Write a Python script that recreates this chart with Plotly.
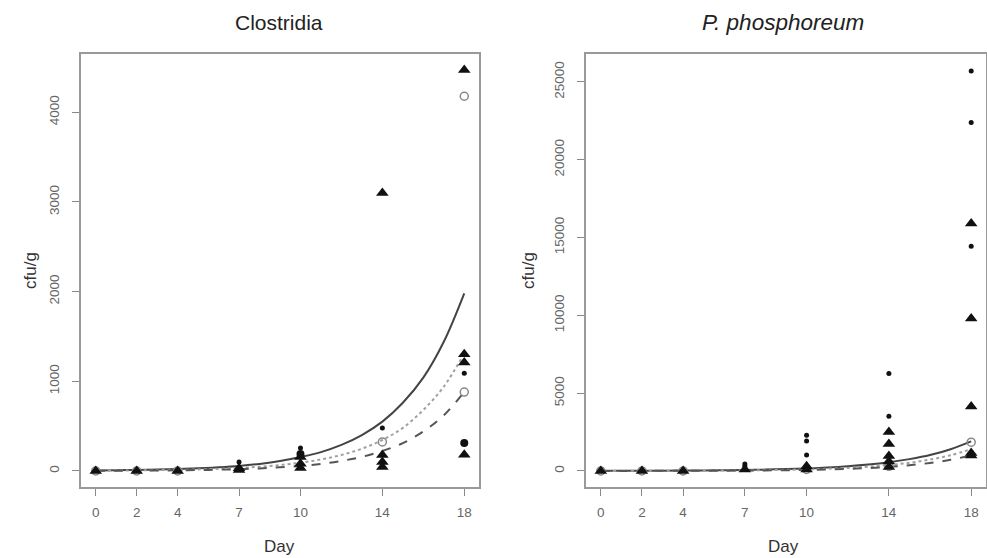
import plotly.graph_objects as go

W, H = 987, 558
days_curve = list(range(19))
x_ticks = [0, 2, 4, 7, 10, 14, 18]

# ---- Clostridia (left) ----
cl_solid = [6, 8, 11, 15, 21, 29, 40, 55, 78, 110, 155, 210, 290, 400, 550, 760, 1040, 1440, 1980]
cl_dotted = [3, 5, 6, 9, 12, 17, 24, 34, 47, 66, 92, 128, 178, 248, 345, 480, 680, 940, 1310]
cl_dashed = [2, 3, 4, 5, 7, 10, 14, 20, 28, 40, 56, 79, 112, 157, 222, 310, 440, 620, 880]
cl_tri_x = [0, 2, 4, 7, 7, 10, 10, 10, 14, 14, 14, 14, 18, 18, 18, 18]
cl_tri_y = [0, 0, 0, 30, 10, 156, 80, 33, 3100, 178, 100, 45, 4470, 1300, 1210, 180]
cl_dot_x = [7, 10, 14, 18]
cl_dot_y = [100, 256, 480, 1090]
cl_bigdot_x = [10, 18]
cl_bigdot_y = [190, 312]
cl_open_x = [0, 2, 4, 14, 18, 18]
cl_open_y = [0, 0, 0, 323, 4178, 880]

# ---- P. phosphoreum (right) ----
pp_solid = [7, 10, 13, 18, 25, 34, 46, 63, 86, 118, 160, 220, 300, 410, 560, 760, 1020, 1400, 1900]
pp_dotted = [4, 6, 8, 11, 15, 20, 28, 39, 54, 74, 103, 143, 198, 275, 380, 525, 730, 1010, 1400]
pp_dashed = [3, 4, 5, 7, 10, 13, 19, 26, 36, 50, 70, 98, 136, 190, 265, 370, 515, 720, 1000]
pp_tri_x = [0, 2, 4, 7, 10, 10, 14, 14, 14, 14, 14, 18, 18, 18, 18, 18]
pp_tri_y = [0, 0, 0, 100, 300, 100, 2500, 1730, 960, 600, 250, 15900, 9800, 4150, 1150, 1000]
pp_dot_x = [7, 7, 10, 10, 10, 14, 14, 18, 18, 18, 18]
pp_dot_y = [450, 300, 2300, 1920, 1020, 6260, 3520, 25700, 22400, 14450, 9850]
pp_open_x = [0, 2, 4, 10, 14, 18]
pp_open_y = [0, 0, 0, 100, 300, 1850]

fig = go.Figure()

def add_panel(xa, ya, solid, dotted, dashed, tri_x, tri_y, dot_x, dot_y, open_x, open_y, big_x=None, big_y=None):
    fig.add_trace(go.Scatter(x=days_curve, y=solid, mode="lines", line=dict(color="#444444", width=2, shape="spline"), xaxis=xa, yaxis=ya))
    fig.add_trace(go.Scatter(x=days_curve, y=dotted, mode="lines", line=dict(color="#a0a0a0", width=2, dash="dot", shape="spline"), xaxis=xa, yaxis=ya))
    fig.add_trace(go.Scatter(x=days_curve, y=dashed, mode="lines", line=dict(color="#555555", width=2, dash="dash", shape="spline"), xaxis=xa, yaxis=ya))
    fig.add_trace(go.Scatter(x=open_x, y=open_y, mode="markers", marker=dict(symbol="circle-open", size=8, color="#888888", line=dict(width=1.5, color="#888888")), xaxis=xa, yaxis=ya))
    fig.add_trace(go.Scatter(x=dot_x, y=dot_y, mode="markers", marker=dict(symbol="circle", size=5, color="#111111"), xaxis=xa, yaxis=ya))
    if big_x:
        fig.add_trace(go.Scatter(x=big_x, y=big_y, mode="markers", marker=dict(symbol="circle", size=8, color="#111111"), xaxis=xa, yaxis=ya))
    fig.add_trace(go.Scatter(x=tri_x, y=tri_y, mode="markers", marker=dict(symbol="triangle-up", size=11, color="#111111"), xaxis=xa, yaxis=ya))

add_panel("x", "y", cl_solid, cl_dotted, cl_dashed, cl_tri_x, cl_tri_y, cl_dot_x, cl_dot_y, cl_open_x, cl_open_y, cl_bigdot_x, cl_bigdot_y)
add_panel("x2", "y2", pp_solid, pp_dotted, pp_dashed, pp_tri_x, pp_tri_y, pp_dot_x, pp_dot_y, pp_open_x, pp_open_y)

tickfont = dict(family="Liberation Sans, Arial, sans-serif", size=13.5, color="#666666")
ax_common = dict(showgrid=False, zeroline=False, showline=True, mirror=True, linecolor="#999999", linewidth=1.5,
                 ticks="outside", ticklen=7, tickcolor="#888888", tickfont=tickfont, tickformat="d")

ydom = [(H - 487) / H, (H - 54) / H]
fig.update_layout(
    width=W, height=H, margin=dict(l=0, r=0, t=0, b=0),
    paper_bgcolor="white", plot_bgcolor="white", showlegend=False,
    xaxis=dict(domain=[81 / W, 479 / W], range=[-0.72, 18.72], tickvals=x_ticks, anchor="y", ticklabelstandoff=5, **ax_common),
    yaxis=dict(domain=ydom, range=[-179, 4649], tickvals=[0, 1000, 2000, 3000, 4000], tickangle=-90, anchor="x", ticklabelstandoff=8, **ax_common),
    xaxis2=dict(domain=[586 / W, 986 / W], range=[-0.72, 18.72], tickvals=x_ticks, anchor="y2", ticklabelstandoff=5, **ax_common),
    yaxis2=dict(domain=ydom, range=[-1031, 26798], tickvals=[0, 5000, 10000, 15000, 20000, 25000], tickangle=-90, anchor="x2", ticklabelstandoff=8, **ax_common),
)

ff = "Liberation Sans, Arial, sans-serif"
afont = dict(family=ff, size=17, color="#333333")
ann = [
    dict(text="Clostridia", x=279 / W, y=1 - 22 / H, font=dict(family=ff, size=21, color="#222222")),
    dict(text="<i>P. phosphoreum</i>", x=783 / W, y=1 - 22 / H, font=dict(family=ff, size=22.5, color="#222222")),
    dict(text="Day", x=279 / W, y=1 - 546 / H, font=afont),
    dict(text="Day", x=783 / W, y=1 - 546 / H, font=afont),
    dict(text="cfu/g", x=30 / W, y=1 - 271 / H, font=afont, textangle=-90),
    dict(text="cfu/g", x=528 / W, y=1 - 271 / H, font=afont, textangle=-90),
]
for a in ann:
    fig.add_annotation(xref="paper", yref="paper", showarrow=False, xanchor="center", yanchor="middle", **a)

fig.write_html("out.html", config={"displayModeBar": False},
               post_script="document.body.style.margin='0';document.body.style.overflow='hidden';")
